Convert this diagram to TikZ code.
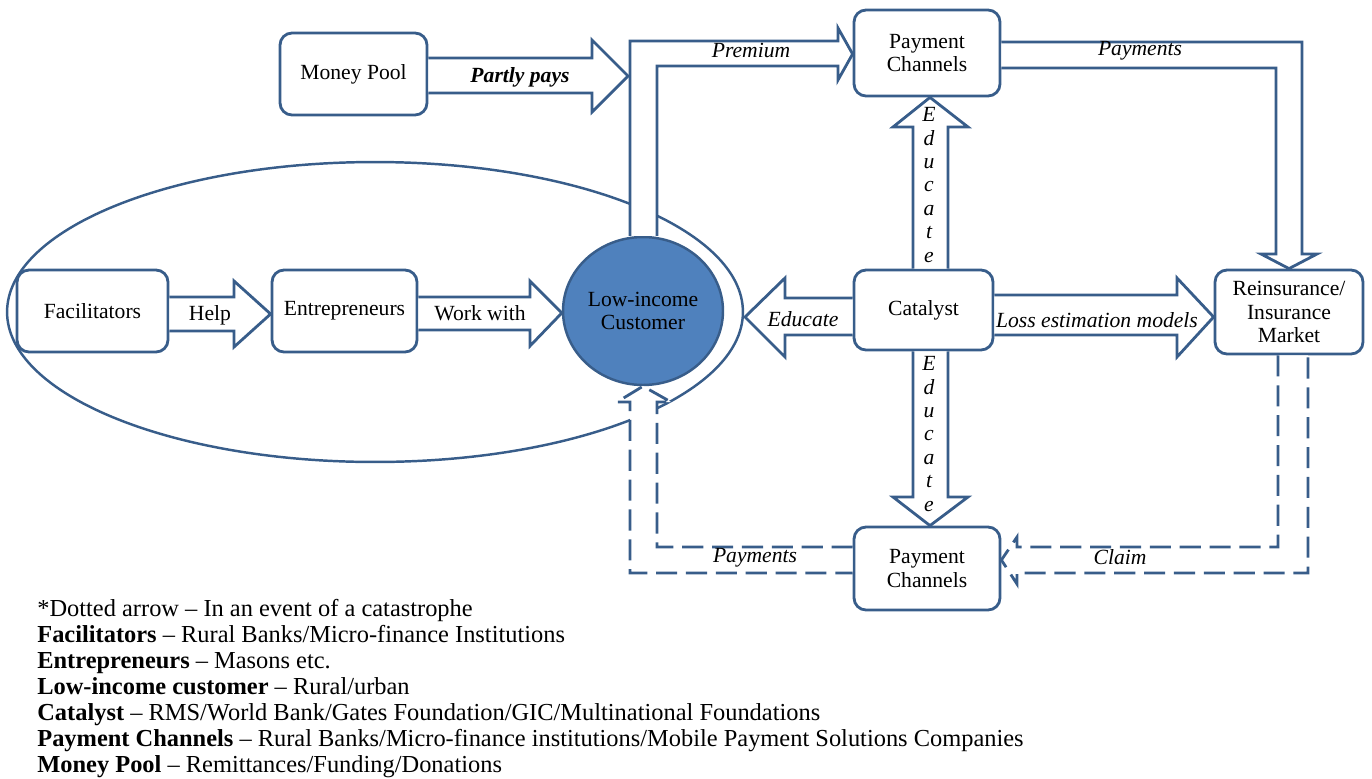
\documentclass[tikz,border=0pt]{standalone}
\usepackage{fontspec}
\setmainfont{Liberation Serif}
\usetikzlibrary{shapes.geometric,calc}
\definecolor{frame}{RGB}{56,93,138}
\definecolor{custfill}{RGB}{79,129,189}

\begin{document}
\begin{tikzpicture}[x=0.02cm,y=-0.02cm,
        box/.style={draw=frame,line width=1.6pt,rounded corners=0.24cm,fill=white,align=center,
            inner sep=2pt,font=\fontsize{12.3}{13.3}\selectfont},
        blk/.style={draw=frame,line width=1.6pt,fill=white},
        dblk/.style={blk,dash pattern=on 12pt off 5pt},
        lbl/.style={inner sep=1pt,font=\fontsize{12.3}{13.3}\selectfont\itshape},
        lbln/.style={inner sep=1pt,font=\fontsize{12.3}{13.3}\selectfont}]
        \useasboundingbox (0,0) rectangle (1372,778);
        % Group round the customer side
        \draw[frame,line width=1.4pt] (375,312) ellipse [x radius=7.36cm,y radius=3cm];
        % Boxes
        \node[box,minimum width=2.94cm,minimum height=1.64cm] (pool) at (353.5,74) {Money Pool};
        \node[box,minimum width=3.02cm,minimum height=1.64cm] (fac) at (92.5,311) {Facilitators};
        \node[box,minimum width=2.9cm,minimum height=1.64cm] (ent) at (344.5,311) {Entrepreneurs};
        \node[ellipse,draw=frame,fill=custfill,line width=1.4pt,minimum width=3.2cm,minimum height=2.96cm,
            align=center,inner sep=0pt,font=\fontsize{12.3}{13.3}\selectfont] (cust) at (643,311) {Low-income\\Customer};
        \node[box,minimum width=2.92cm,minimum height=1.72cm] (paytop) at (927,53) {Payment\\Channels};
        \node[box,minimum width=2.78cm,minimum height=1.6cm] (cat) at (923.5,310) {Catalyst};
        \node[box,minimum width=2.96cm,minimum height=1.68cm] (reins) at (1289,312) {Reinsurance/\\Insurance\\Market};
        \node[box,minimum width=2.92cm,minimum height=1.66cm] (paybot) at (927,568.5) {Payment\\Channels};
        % Block arrows
        \draw[blk] (fac.east |- 0,297) -- (234,297) -- (234,281) -- (ent.west |- 0,314)
            -- (234,347) -- (234,331) -- (fac.east |- 0,331);
        \draw[blk] (ent.east |- 0,297) -- (530,297) -- (530,281) -- (cust.west |- 0,313)
            -- (530,346) -- (530,330) -- (ent.east |- 0,330);
        \draw[blk] (pool.east |- 0,58) -- (592,58) -- (592,40) -- (628,76)
            -- (592,112) -- (592,93) -- (pool.east |- 0,93);
        \draw[blk] ($(cust.north)+(-13,0)$) -- (630,41) -- (838,41) -- (838,28) -- (paytop.west |- 0,54)
            -- (838,80) -- (838,66) -- (657,66) -- ($(cust.north)+(14,0)$);
        \draw[blk] (paytop.east |- 0,42) -- (1302,42) -- (1302,254) -- (1317,254) -- (reins.north)
            -- (1261,254) -- (1276,254) -- (1276,68) -- (paytop.east |- 0,68);
        \draw[blk] (913,0 |- cat.north) -- (913,127) -- (893,127) -- (930,0 |- paytop.south)
            -- (968,127) -- (948,127) -- (948,0 |- cat.north);
        \draw[blk] (913,0 |- cat.south) -- (913,497) -- (893,497) -- (930,0 |- paybot.north)
            -- (968,497) -- (948,497) -- (948,0 |- cat.south);
        \draw[blk] (cat.west |- 0,298) -- (785,298) -- (785,278) -- (745,317)
            -- (785,357) -- (785,335) -- (cat.west |- 0,335);
        \draw[blk] (cat.east |- 0,295) -- (1177,295) -- (1177,278) -- (reins.west |- 0,317)
            -- (1177,357) -- (1177,335) -- (cat.east |- 0,335);
        % Dashed arrows (catastrophe)
        \draw[dblk] ($(reins.south)+(-11,0)$) -- (1278,547) -- (1017,547) -- (1017,537) -- (paybot.east |- 0,560)
            -- (1017,584) -- (1017,573) -- (1308,573) -- ($(reins.south)+(19,0)$);
        \draw[dblk] (paybot.west |- 0,547) -- (657,547) -- (657,402) -- (671,402) -- (cust.south)
            -- (617,402) -- (630,402) -- (630,573) -- (paybot.west |- 0,573);
        % Arrow labels
        \node[lbln] (lhelp) at (210,315) {Help};
        \node[lbln] (lwork) at (480,313) {Work with};
        \node[lbl,font=\fontsize{12.3}{13.3}\selectfont\bfseries\itshape] (lpays) at (520,77) {Partly pays};
        \node[lbl] (lprem) at (751,50) {Premium};
        \node[lbl] (lpaytop) at (1140,51) {Payments};
        \node[lbl] (ledu) at (803,319) {Educate};
        \node[lbl] (lloss) at (1097,320) {Loss estimation models};
        \node[lbl,align=center] (leduup) at (929,185) {E\\d\\u\\c\\a\\t\\e};
        \node[lbl,align=center] (ledudn) at (929,434) {E\\d\\u\\c\\a\\t\\e};
        \node[lbl] (lpaybot) at (755,558) {Payments};
        \node[lbl] (lclaim) at (1120,557) {Claim};
        % Key
        \node[anchor=north west,align=left,inner sep=0pt,font=\fontsize{13.9}{14.75}\selectfont] (key) at (37,599)
            {*Dotted arrow -- In an event of a catastrophe\\
            \textbf{Facilitators} -- Rural Banks/Micro-finance Institutions\\
            \textbf{Entrepreneurs} -- Masons etc.\\
            \textbf{Low-income customer} -- Rural/urban\\
            \textbf{Catalyst} -- RMS/World Bank/Gates Foundation/GIC/Multinational Foundations\\
            \textbf{Payment Channels} -- Rural Banks/Micro-finance institutions/Mobile Payment Solutions Companies\\
            \textbf{Money Pool} -- Remittances/Funding/Donations};
\end{tikzpicture}
\end{document}
